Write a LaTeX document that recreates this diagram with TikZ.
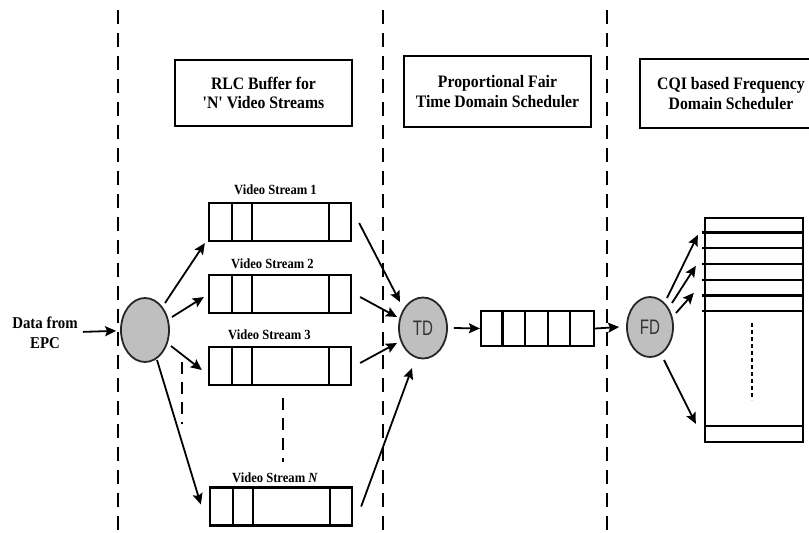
\documentclass[tikz,border=0pt]{standalone}
\usepackage{fontspec}
\setmainfont{Liberation Serif}
\newfontfamily\labelfont[FakeStretch=0.9,Ligatures=TeXOff]{Liberation Serif}
\newfontfamily\procfont[FakeStretch=0.72]{Liberation Sans}
\usetikzlibrary{shapes.geometric,arrows.meta,calc}

\begin{document}
\begin{tikzpicture}[x=1pt,y=-1pt,
  divider/.style={line width=2.2pt, dash pattern=on 14pt off 9pt},
  gapdash/.style={line width=2pt, dash pattern=on 12pt off 8pt},
  titlebox/.style={draw, line width=1.2pt, align=center, inner sep=0pt,
    font=\labelfont\bfseries\fontsize{17.5}{19.5}\selectfont},
  buffer/.style={draw, line width=2.3pt, minimum width=142pt, minimum height=38pt, inner sep=0pt},
  streamlabel/.style={inner sep=0pt, font=\labelfont\bfseries\fontsize{14}{16}\selectfont},
  proc/.style={ellipse, draw=black!85, line width=1.8pt, fill=black!25, inner sep=0pt,
    font=\procfont\fontsize{21}{21}\selectfont, text=black!80},
  flow/.style={-{Stealth[length=11pt,width=10pt,inset=2pt]}, line width=1.8pt},
  cell/.style={line width=2.3pt},
]
\useasboundingbox (0,0) rectangle (809,533);
\clip (0,0) rectangle (809,533);

% stage separators
\draw[divider] (118,10) -- (118,533);
\draw[divider] (383,10) -- (383,533);
\draw[divider] (607,10) -- (607,533);

% stage headings
\node[titlebox, minimum width=177pt, minimum height=66pt] (t1) at (263.5,93)
  {RLC Buffer for\\'N' Video Streams};
\node[titlebox, minimum width=187pt, minimum height=71pt] (t2) at (497.5,91.5)
  {Proportional Fair\\Time Domain Scheduler};
\node[titlebox, minimum width=182pt, minimum height=69pt] (t3) at (731,93.5)
  {CQI based Frequency\\Domain Scheduler};

% input
\node[align=center, inner sep=0pt, font=\labelfont\bfseries\fontsize{16.5}{20}\selectfont]
  (epc) at (45,333) {Data from\\EPC};
\node[proc, minimum width=48pt, minimum height=64pt] (src) at (145,330) {};

% per-stream RLC buffers
\node[buffer] (sb1) at (280,222) {};
\node[buffer] (sb2) at (280,294) {};
\node[buffer] (sb3) at (280,366) {};
\node[buffer] (sbN) at (281,506.5) {};
\foreach \b in {sb1,sb2,sb3,sbN} {
  \draw[cell] ($(\b.north west)+(24,0)$) -- ($(\b.south west)+(24,0)$);
  \draw[cell] ($(\b.north west)+(44,0)$) -- ($(\b.south west)+(44,0)$);
  \draw[cell] ($(\b.north east)+(-23,0)$) -- ($(\b.south east)+(-23,0)$);
}
\node[streamlabel] (l1) at (275.5,190) {Video Stream 1};
\node[streamlabel] (l2) at (272.5,263.5) {Video Stream 2};
\node[streamlabel] (l3) at (269.5,335) {Video Stream 3};
\node[streamlabel] (lN) at (275,478) {Video Stream \textit{N}};

% elided streams
\draw[gapdash] (182,362) -- (182,424);
\draw[gapdash] (283,398) -- (283,462);

% time domain scheduler and its queue
\node[proc, minimum width=48pt, minimum height=61pt] (td) at (423,328) {TD};
\node[draw, line width=2.3pt, minimum width=113pt, minimum height=35pt, inner sep=0pt] (q) at (537.5,328.5) {};
\foreach \i in {1,...,4}
  \draw[cell] ($(q.north west)+(22.6*\i,0)$) -- ($(q.south west)+(22.6*\i,0)$);

% frequency domain scheduler and resource blocks
\node[proc, minimum width=46pt, minimum height=60pt] (fd) at (650,327) {FD};
\node[draw, line width=2.3pt, minimum width=98pt, minimum height=224pt, inner sep=0pt] (rb) at (754,330) {};
\foreach \k in {1,...,6}
  \draw[cell] ($(rb.north west)+(-2,15.7*\k)$) -- ($(rb.north east)+(0,15.7*\k)$);
\draw[cell] ($(rb.south west)+(0,-17)$) -- ($(rb.south east)+(0,-17)$);
\draw[line width=2pt, dash pattern=on 4pt off 3pt] ($(rb.center)+(-2,-7)$) -- ($(rb.center)+(-2,70)$);

% connectors
\draw[flow, shorten <=5pt, shorten >=4pt] (epc) -- (src);
\draw[flow] ($(src.center)+(20,-27)$) -- ($(sb1.south west)+(-3,1)$);
\draw[flow] ($(src.center)+(27,-13)$) -- ($(sb2.west)+(-4,3)$);
\draw[flow] ($(src.center)+(26,16)$) -- ($(sb3.west)+(-6,4)$);
\draw[flow] ($(src.center)+(12,30)$) -- ($(sbN.west)+(-8,-2)$);

\draw[flow] ($(sb1.east)+(7,1)$) -- ($(td.center)+(-23,-26)$);
\draw[flow] ($(sb2.east)+(8,3)$) -- ($(td.center)+(-26,-11)$);
\draw[flow] ($(sb3.east)+(8,-3)$) -- ($(td.center)+(-26,15)$);
\draw[flow] ($(sbN.east)+(8,0)$) -- ($(td.center)+(-11,40)$);

\draw[flow] ($(td.east)+(6,0)$) -- (q.west);
\draw[flow] (q.east) -- ($(fd.west)+(-7,0)$);

\draw[flow] ($(fd.center)+(17,-29)$) -- ($(rb.north west)+(-6,18)$);
\draw[flow] ($(fd.center)+(22,-24)$) -- ($(rb.north west)+(-8,49)$);
\draw[flow] ($(fd.center)+(26,-14)$) -- ($(rb.north west)+(-10,76)$);
\draw[flow] ($(fd.center)+(14,33)$) -- ($(rb.north west)+(-8,207)$);
\end{tikzpicture}
\end{document}
